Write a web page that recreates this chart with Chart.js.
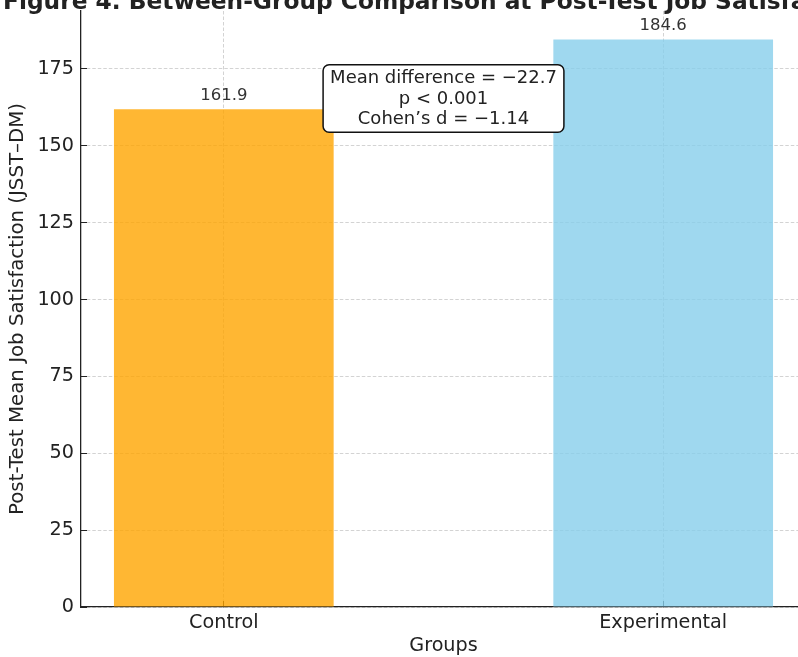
<!DOCTYPE html>
<html>
<head>
<meta charset="utf-8">
<script src="https://cdn.jsdelivr.net/npm/chart.js@4.4.1/dist/chart.umd.min.js"></script>
<style>
  html, body { margin: 0; padding: 0; background: #fff; overflow: hidden; width: 798px; height: 657px; }
  #wrap { position: absolute; left: 0; top: -40px; width: 886px; height: 697px; }
</style>
</head>
<body>
<div id="wrap"><canvas id="chart" width="886" height="697"></canvas></div>
<script>
// data
var groups = ['Control', 'Experimental']
var means = [161.9, 184.6]
var barColors = ['rgba(255,165,0,0.8)', 'rgba(135,206,235,0.8)']
var yTicks = [0, 25, 50, 75, 100, 125, 150, 175]
var statLines = ['Mean difference = \u221222.7', 'p < 0.001', 'Cohen\u2019s d = \u22121.14']
var figTitle = 'Figure 4. Between-Group Comparison at Post-Test Job Satisfaction'

var FONT = "'DejaVu Sans', sans-serif"
var TXT = '#222'

// the title is wider than the plot, and the picture crops it, so draw it by hand
var bigTitle = {
    id: 'bigTitle',
    afterDraw: function (chart) {
        var ctx = chart.ctx
        ctx.save()
        ctx.font = 'bold 23.3px ' + FONT
        ctx.fillStyle = TXT
        ctx.textAlign = 'center'
        ctx.textBaseline = 'middle'
        ctx.fillText(figTitle, 437.5, 43.1)
        ctx.restore()
    }
}

// value labels above bars + stats box
var extras = {
    id: 'extras',
    afterDatasetsDraw: function (chart) {
        var ctx = chart.ctx
        var xs = chart.scales.x, ys = chart.scales.y
        ctx.save()
        ctx.font = '16.5px ' + FONT
        ctx.fillStyle = '#333'
        ctx.textAlign = 'center'
        ctx.textBaseline = 'alphabetic'
        means.forEach(function (m, i) {
            ctx.fillText(m.toFixed(1), xs.getPixelForValue(i), ys.getPixelForValue(m) - 9)
        })

        // stats box, centered between the two groups
        ctx.font = '18px ' + FONT
        var lh = 20.5
        var w = 0
        statLines.forEach(function (s) { w = Math.max(w, ctx.measureText(s).width) })
        var cx = xs.getPixelForValue(0.5)
        var cy = ys.getPixelForValue(165.4)
        var bw = w + 14, bh = lh * statLines.length + 6
        var bx = cx - bw / 2, by = cy - bh / 2
        ctx.beginPath()
        ctx.roundRect(bx, by, bw, bh, 6)
        ctx.fillStyle = '#fff'
        ctx.fill()
        ctx.lineWidth = 1.5
        ctx.strokeStyle = '#111'
        ctx.stroke()
        ctx.fillStyle = TXT
        ctx.textBaseline = 'middle'
        statLines.forEach(function (s, k) {
            ctx.fillText(s, cx, by + 3.5 + lh * (k + 0.5))
        })
        ctx.restore()
    }
}

var ctx = document.getElementById('chart').getContext('2d')
var chart = new Chart(ctx, {
    type: 'bar',
    data: {
        datasets: [{
            data: means.map(function (m, i) { return { x: i, y: m } }),
            backgroundColor: barColors,
            borderWidth: 0,
            categoryPercentage: 1,
            barPercentage: 0.5
        }]
    },
    options: {
        responsive: false,
        animation: false,
        events: [],
        layout: { padding: { top: 51, left: 0, right: 80, bottom: 0 } },
        plugins: {
            legend: { display: false },
            tooltip: { enabled: false },
            title: { display: false }
        },
        scales: {
            x: {
                type: 'linear',
                min: -0.325,
                max: 1.325,
                offset: false,
                afterBuildTicks: function (s) { s.ticks = groups.map(function (g, i) { return { value: i } }) },
                afterFit: function (s) { s.height = 50 },
                grid: {
                    offset: false,
                    color: 'rgba(176,176,176,0.7)',
                    lineWidth: 0.8,
                    tickLength: -6,
                    tickColor: '#222',
                    tickWidth: 1,
                    tickBorderDash: []
                },
                border: { display: true, color: '#222', width: 1.3, dash: [3.5, 2] },
                ticks: {
                    color: TXT,
                    font: { family: FONT, size: 19.2 },
                    padding: 10,
                    maxRotation: 0,
                    callback: function (v) { return groups[v] }
                },
                title: {
                    display: true,
                    text: 'Groups',
                    color: TXT,
                    font: { family: FONT, size: 19.2 },
                    padding: { top: 0, bottom: -1 }
                }
            },
            y: {
                min: 0,
                max: 193.83,
                afterBuildTicks: function (s) { s.ticks = yTicks.map(function (v) { return { value: v } }) },
                afterFit: function (s) { s.width = 81 },
                grid: {
                    color: 'rgba(176,176,176,0.7)',
                    lineWidth: 0.8,
                    tickLength: -6,
                    tickColor: '#222',
                    tickWidth: 1,
                    tickBorderDash: []
                },
                border: { display: true, color: '#222', width: 1.3, dash: [3.5, 2] },
                ticks: {
                    color: TXT,
                    font: { family: FONT, size: 19.2 },
                    padding: 13
                },
                title: {
                    display: true,
                    text: 'Post-Test Mean Job Satisfaction (JSST\u2013DM)',
                    color: TXT,
                    font: { family: FONT, size: 19.8 },
                    padding: { top: 6, bottom: 0 }
                }
            }
        }
    },
    plugins: [extras, bigTitle]
})
</script>
</body>
</html>
